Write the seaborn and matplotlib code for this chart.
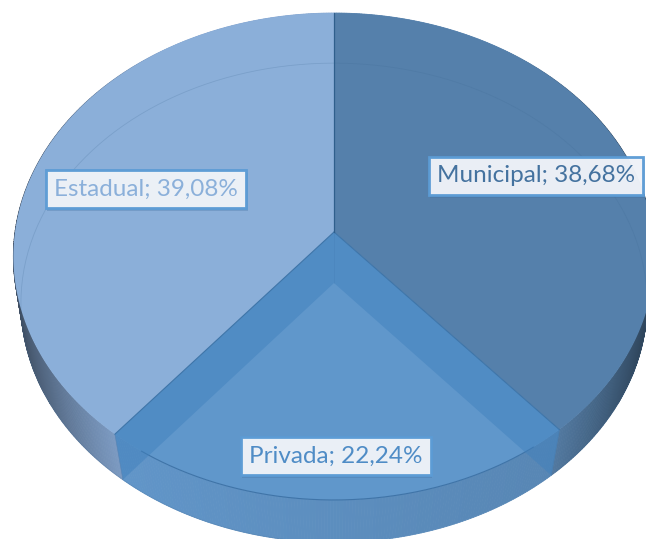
import numpy as np
import matplotlib
matplotlib.use('Agg')
import matplotlib.pyplot as plt
import matplotlib.patheffects as pe
import seaborn as sns

# dados
categorias = ['Municipal', 'Privada', 'Estadual']
valores = [38.68, 22.24, 39.08]
cores_topo = ['#5580ab', '#6097cb', '#8bafd9']
cores_parede = ['#5a85b0', '#6195c8', '#86a7d2']
cores_texto = ['#44729f', '#4f8cc6', '#8bb0da']

sns.set_theme(style='white')
plt.rcParams['font.family'] = ['Lato', 'DejaVu Sans']

# geometria da perspectiva (em pixels da imagem)
CX = 334
TOPO = dict(cy=232, a=241, b=319, k=-0.1006)
BASE = dict(cy=283, a=238, b=312, k=-0.0825)
ROTULOS = {'Municipal': (536, 176), 'Privada': (336, 456), 'Estadual': (146, 189)}


def projeta(theta, g):
    # theta em radianos, 0 no topo e sentido horario
    u = np.sin(theta)
    v = -np.cos(theta)
    d = 1 + g['k'] * v
    return CX + g['b'] * u / d, g['cy'] + g['a'] * v / d


fig = plt.figure(figsize=(6.46, 5.39), dpi=100)
ax = fig.add_axes([0, 0, 1, 1])
ax.set_xlim(0, 646)
ax.set_ylim(539, 0)
ax.axis('off')

fim = np.cumsum(valores) / np.sum(valores) * 2 * np.pi
ini = np.concatenate([[0], fim[:-1]])

# paredes externas com sombreamento nas laterais
for i in range(3):
    passos = np.linspace(ini[i], fim[i], int(np.degrees(fim[i] - ini[i])) * 2 + 2)
    for t0, t1 in zip(passos[:-1], passos[1:]):
        x0, y0 = projeta(np.array([t0, t1]), TOPO)
        x1, y1 = projeta(np.array([t1, t0]), BASE)
        u = abs(np.sin((t0 + t1) / 2))
        f = 1 - 0.55 * (max(u - 0.55, 0) / 0.45) ** 1.2
        if i == 1:
            # frente fica um pouco mais escura para a direita
            f = 1 - 0.08 * (np.sin((t0 + t1) / 2) + 0.6)
        cor = np.array(matplotlib.colors.to_rgb(cores_parede[i])) * f
        ax.fill(np.r_[x0, x1], np.r_[y0, y1], color=cor, lw=0.6, zorder=1)

# faces de cima
for i in range(3):
    t = np.linspace(ini[i], fim[i], 200)
    x, y = projeta(t, TOPO)
    ax.fill(np.r_[CX, x], np.r_[TOPO['cy'], y], color=cores_topo[i], lw=0, zorder=2)

# contorno da face (parte da frente) e elipse de baixo vista por transparencia
t = np.linspace(ini[1] + 0.1, fim[1] - 0.1, 200)
x, y = projeta(t, TOPO)
ax.plot(x, y, color='#3f74a8', lw=0.8, zorder=3)
t = np.linspace(-fim[1] + 0.6, fim[0] - 0.02, 300)
x, y = projeta(t, BASE)
ax.plot(x, y, color='#3f6a94', lw=0.6, alpha=0.22, zorder=3)

# cortes internos vistos atraves da fatia Privada
for ang in [ini[1], fim[1]]:
    xt, yt = projeta(ang, TOPO)
    xb, yb = projeta(ang, BASE)
    ax.fill([CX, xt, xb, CX], [TOPO['cy'], yt, yb, BASE['cy']],
            color='#3f80bd', alpha=0.48, lw=0, zorder=4)
    ax.plot([CX, xt], [TOPO['cy'], yt], color='#3d74a8', lw=0.8, zorder=5)
    ax.plot([xt, xb], [yt, yb], color='#3d74a8', lw=0.4, alpha=0.5, zorder=5)
ax.plot([CX, CX], [TOPO['cy'], BASE['cy']], color='#3d74a8', lw=0.5, alpha=0.25, zorder=5)
ax.plot([CX, CX], [projeta(0.0, TOPO)[1], TOPO['cy']], color='#2f5f8c', lw=0.9, zorder=5)

# rotulos
for i, nome in enumerate(categorias):
    txt = f'{nome}; {valores[i]:.2f}%'.replace('.', ',')
    xr, yr = ROTULOS[nome]
    r = ax.text(xr, yr, txt, color=cores_texto[i], fontsize=17.5, ha='center', va='center',
                zorder=7,
                bbox=dict(boxstyle='square,pad=0.34', fc='#f1f4f9', ec='#5b9bd5', lw=2, alpha=0.96))
    r.get_bbox_patch().set_path_effects([
        pe.SimplePatchShadow(offset=(1, -2), shadow_rgbFace='#3f6f9f', alpha=0.3), pe.Normal()])

plt.savefig('out.png', dpi=100)
plt.close()
